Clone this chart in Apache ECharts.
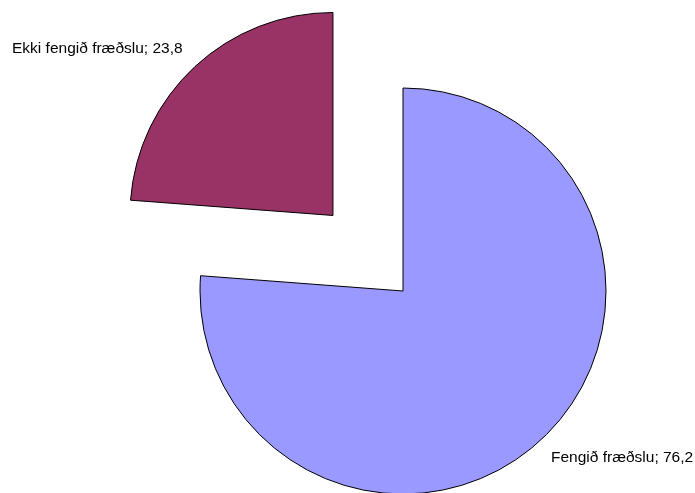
<!DOCTYPE html>
<html>
<head>
<meta charset="utf-8">
<script src="https://cdn.jsdelivr.net/npm/echarts@6/dist/echarts.min.js"></script>
<style>
  html, body { margin: 0; padding: 0; background: #fff; }
  #chart { width: 695px; height: 493px; }
</style>
</head>
<body>
<div id="chart"></div>
<script>
// gögn
var categories = ['Fengið fræðslu', 'Ekki fengið fræðslu'];
var values = [76.2, 23.8];
var colors = ['#9999FF', '#993366'];

// staðsetning merkja (vinstri brún, miðja texta)
var labelPos = [[551, 457.5], [12, 48.5]];

var chart = echarts.init(document.getElementById('chart'));

var option = {
  animation: false,
  graphic: categories.map(function (c, i) {
    return {
      type: 'text',
      x: labelPos[i][0],
      y: labelPos[i][1],
      silent: true,
      style: {
        text: c + '; ' + String(values[i]).replace('.', ','),
        fill: '#000',
        font: '15.5px "Liberation Sans", Arial, sans-serif',
        textAlign: 'left',
        textVerticalAlign: 'middle'
      }
    };
  }),
  series: [
    {
      type: 'pie',
      center: [403, 291],
      radius: 203,
      startAngle: 90,
      clockwise: true,
      selectedMode: 'single',
      selectedOffset: 103,
      emphasis: { disabled: true },
      itemStyle: { borderColor: '#000', borderWidth: 1 },
      label: { show: false },
      labelLine: { show: false },
      data: categories.map(function (c, i) {
        return {
          name: c,
          value: values[i],
          selected: i === 1,
          itemStyle: { color: colors[i] }
        };
      })
    }
  ]
};

chart.setOption(option);
</script>
</body>
</html>
